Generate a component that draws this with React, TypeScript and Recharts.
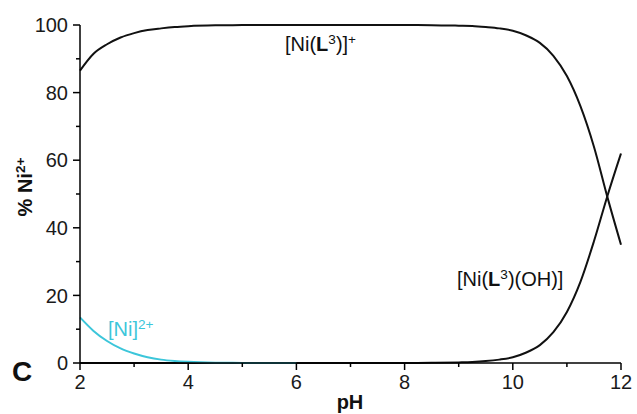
import { LineChart, Line, XAxis, YAxis } from 'recharts'

const PH = [2, 2.25, 2.5, 2.75, 3, 3.25, 3.5, 3.75, 4, 4.5, 5, 6, 7, 8, 8.5, 9, 9.25, 9.5, 9.75, 10, 10.25, 10.5, 10.75, 11, 11.25, 11.5, 11.75, 12]
const NI_FREE = [13.5, 9.5, 6.5, 4.3, 2.8, 1.7, 1.0, 0.6, 0.35, 0.1, 0.03, 0, null, null, null, null, null, null, null, null, null, null, null, null, null, null, null, null]
const NI_L = [86.5, 91.5, 94.3, 96.3, 97.6, 98.5, 99.0, 99.4, 99.65, 99.9, 99.97, 100, 100, 99.98, 99.95, 99.8, 99.7, 99.4, 99.0, 98.3, 96.9, 94.7, 90.9, 84.9, 76.0, 64.0, 49.0, 35.0]
const NI_L_OH = [0, 0, 0, 0, 0, 0, 0, 0, 0, 0, 0, 0, 0, 0.02, 0.05, 0.18, 0.3, 0.56, 1.0, 1.7, 3.1, 5.3, 9.1, 15.1, 24, 36, 49.5, 62]

const X_TICKS = [2, 3, 4, 5, 6, 7, 8, 9, 10, 11, 12]
const Y_TICKS = [0, 10, 20, 30, 40, 50, 60, 70, 80, 90, 100]

const data = PH.map((ph, i) => ({ ph, free: NI_FREE[i], nil: NI_L[i], niloh: NI_L_OH[i] }))

const FONT = '"Liberation Sans", Arial, sans-serif'
const CYAN = '#3cc6da'

function XTick({ x, y, payload }: any) {
  const v = payload.value
  const major = v % 2 === 0
  const axisY = y - 12
  return (
    <g>
      <line x1={x} x2={x} y1={axisY} y2={axisY + (major ? 7 : 4)} stroke="#000" strokeWidth={1.5} />
      {major && (
        <text x={x} y={axisY + 12} dy="0.71em" textAnchor="middle" fontSize={20} fontFamily={FONT} fill="#1a1a1a">{v}</text>
      )}
    </g>
  )
}

function YTick({ x, y, payload }: any) {
  const v = payload.value
  const major = v % 20 === 0
  const axisX = x + 12
  return (
    <g>
      <line x1={axisX - (major ? 7 : 4)} x2={axisX} y1={y} y2={y} stroke="#000" strokeWidth={1.5} />
      {major && (
        <text x={axisX - 12} y={y} dy="0.355em" textAnchor="end" fontSize={20} fontFamily={FONT} fill="#1a1a1a">{v}</text>
      )}
    </g>
  )
}

const sup = { fontSize: '0.68em', verticalAlign: '0.5em', lineHeight: 0 }

export default function App() {
  return (
    <div style={{ position: 'absolute', left: 0, top: 0, width: 637, height: 414, background: 'white', fontFamily: FONT }}>
      <LineChart width={637} height={414} data={data} margin={{ top: 25, right: 16, left: 0, bottom: 0 }}>
        <XAxis
          dataKey="ph" type="number" domain={[2, 12]} ticks={X_TICKS}
          height={51} tickSize={7} tickMargin={5} tickLine={false}
          axisLine={{ stroke: '#000', strokeWidth: 1.5 }} tick={(p: any) => <XTick {...p} />}
        />
        <YAxis
          type="number" domain={[0, 100]} ticks={Y_TICKS}
          width={80} tickSize={7} tickMargin={5} tickLine={false}
          axisLine={{ stroke: '#000', strokeWidth: 1.5 }} tick={(p: any) => <YTick {...p} />}
        />
        <Line dataKey="nil" type="monotone" stroke="#111" strokeWidth={2} dot={false} isAnimationActive={false} />
        <Line dataKey="niloh" type="monotone" stroke="#111" strokeWidth={2} dot={false} isAnimationActive={false} />
        <Line dataKey="free" type="monotone" stroke={CYAN} strokeWidth={2} dot={false} isAnimationActive={false} />
      </LineChart>

      <div style={{ position: 'absolute', left: 285, top: 34, fontSize: 20, lineHeight: '20px', color: '#111', whiteSpace: 'nowrap' }}>
        [Ni(<b>L</b><span style={sup}>3</span>)]<span style={sup}>+</span>
      </div>
      <div style={{ position: 'absolute', left: 457, top: 269, fontSize: 20, lineHeight: '20px', color: '#111', whiteSpace: 'nowrap' }}>
        [Ni(<b>L</b><span style={sup}>3</span>)(OH)]
      </div>
      <div style={{ position: 'absolute', left: 108, top: 319, fontSize: 20, lineHeight: '20px', color: CYAN, whiteSpace: 'nowrap' }}>
        [Ni]<span style={sup}>2+</span>
      </div>
      <div style={{ position: 'absolute', left: 12, top: 358, fontSize: 28, lineHeight: '28px', fontWeight: 'bold', color: '#111' }}>C</div>
      <div style={{ position: 'absolute', left: 325, top: 392, width: 50, textAlign: 'center', fontSize: 20, lineHeight: '20px', fontWeight: 'bold', color: '#111' }}>pH</div>
      <div style={{
        position: 'absolute', left: 25, top: 187, transform: 'translate(-50%, -50%) rotate(-90deg)',
        fontSize: 20, lineHeight: '20px', fontWeight: 'bold', color: '#111', whiteSpace: 'nowrap',
      }}>
        % Ni<span style={sup}>2+</span>
      </div>
    </div>
  )
}
